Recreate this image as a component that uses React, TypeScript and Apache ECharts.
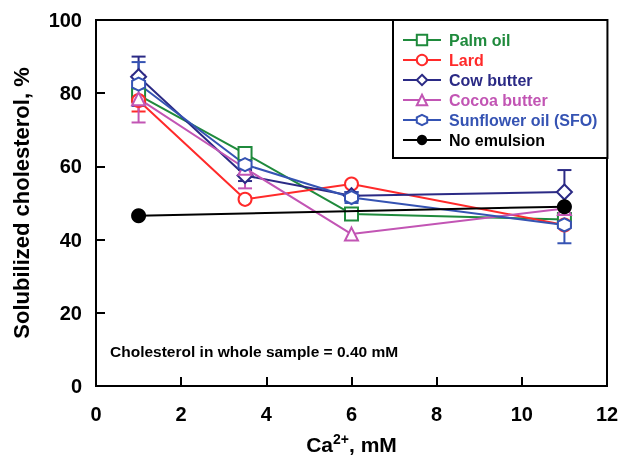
import React, { useEffect, useRef } from "react";
import * as echarts from "echarts";

const xValues = [1, 3.5, 6, 11];
const seriesNames = ["Palm oil", "Lard", "Cow butter", "Cocoa butter", "Sunflower oil (SFO)", "No emulsion"];
const palmOil = [79.5, 63.5, 47, 45.5];
const lard = [78, 51, 55.2, 44];
const cowButter = [84.5, 57.5, 52, 53];
const cocoaButter = [78.5, 59.5, 41.5, 48.5];
const sunflowerOil = [82.5, 60.5, 51.5, 44];
const noEmulsionX = [1, 11];
const noEmulsion = [46.5, 49];
const palmErr = [0, 1.5, 1, 0];
const lardErr = [3, 0, 0, 0];
const cowErr = [5.5, 1.5, 1, 6];
const cocoaErr = [6.5, 5.5, 0, 0];
const sfoErr = [6, 0, 1.5, 5];

const colors = ["#1f8a3c", "#ff2a2a", "#2b2a85", "#c255b4", "#3553b3", "#000000"];
const hexagon = "path://M0,-1 L0.866,-0.5 L0.866,0.5 L0,1 L-0.866,0.5 L-0.866,-0.5 Z";
const FONT = "Liberation Sans, Arial";

export default function App() {
  const ref = useRef<HTMLDivElement>(null);
  useEffect(() => {
    const chart = echarts.init(ref.current!, null, { renderer: "svg" });
    const values = [palmOil, lard, cowButter, cocoaButter, sunflowerOil];
    const errs = [palmErr, lardErr, cowErr, cocoaErr, sfoErr];
    const syms = ["rect", "circle", "diamond", "triangle", hexagon];
    const lineSeries: any[] = values.map((vals, i) => ({
      name: seriesNames[i],
      type: "line",
      data: xValues.map((x, j) => [x, vals[j]]),
      symbol: syms[i],
      symbolSize: i === 2 ? 15 : 13,
      lineStyle: { color: colors[i], width: 2 },
      itemStyle: { color: "#fff", borderColor: colors[i], borderWidth: 2 },
      z: 3,
    }));
    const errSeries: any[] = values.map((vals, i) => ({
      name: seriesNames[i] + " err",
      type: "custom",
      data: xValues
        .map((x, j) => [x, vals[j] - errs[i][j], vals[j] + errs[i][j]])
        .filter((d, j) => errs[i][j] > 0),
      encode: { x: 0, y: [1, 2] },
      renderItem: (params: any, api: any) => {
        const x = api.value(0);
        const lo = api.coord([x, api.value(1)]);
        const hi = api.coord([x, api.value(2)]);
        const w = 7;
        const st = { stroke: colors[i], lineWidth: 2 };
        return {
          type: "group",
          children: [
            { type: "line", shape: { x1: lo[0], y1: lo[1], x2: hi[0], y2: hi[1] }, style: st },
            { type: "line", shape: { x1: lo[0] - w, y1: lo[1], x2: lo[0] + w, y2: lo[1] }, style: st },
            { type: "line", shape: { x1: hi[0] - w, y1: hi[1], x2: hi[0] + w, y2: hi[1] }, style: st },
          ],
        };
      },
      z: 2,
      silent: true,
    }));
    const noEm = {
      name: seriesNames[5],
      type: "line",
      data: noEmulsionX.map((x, j) => [x, noEmulsion[j]]),
      symbol: "circle",
      symbolSize: 15,
      lineStyle: { color: "#000", width: 2 },
      itemStyle: { color: "#000" },
      z: 4,
    };
    chart.setOption({
      animation: false,
      grid: { left: 96, top: 20, right: 16, bottom: 78 },
      xAxis: {
        type: "value",
        min: 0,
        max: 12,
        interval: 2,
        axisLine: { show: true, lineStyle: { color: "#000", width: 2 } },
        axisTick: { show: true, inside: true, length: 9, lineStyle: { color: "#000", width: 2 } },
        axisLabel: { color: "#000", fontSize: 20, fontWeight: "bold", fontFamily: FONT, margin: 18 },
        splitLine: { show: false },
        name: "{a|Ca}{s|2+}{a|, mM}",
        nameLocation: "middle",
        nameGap: 46,
        nameTextStyle: {
          rich: {
            a: { fontSize: 21, fontWeight: "bold", color: "#000", fontFamily: FONT, verticalAlign: "bottom" },
            s: { fontSize: 14, fontWeight: "bold", color: "#000", fontFamily: FONT, verticalAlign: "top", padding: [0, 0, 9, 0] },
          },
        },
      },
      yAxis: {
        type: "value",
        min: 0,
        max: 100,
        interval: 20,
        axisLine: { show: true, lineStyle: { color: "#000", width: 2 } },
        axisTick: { show: true, inside: true, length: 9, lineStyle: { color: "#000", width: 2 } },
        axisLabel: { color: "#000", fontSize: 20, fontWeight: "bold", fontFamily: FONT, margin: 14 },
        splitLine: { show: false },
        name: "Solubilized cholesterol, %",
        nameLocation: "middle",
        nameGap: 64,
        nameTextStyle: { fontSize: 22, fontWeight: "bold", color: "#000", fontFamily: FONT },
      },
      legend: {
        orient: "vertical",
        left: 393,
        top: 20,
        itemWidth: 38,
        itemHeight: 13,
        itemGap: 4,
        padding: [12, 10, 10, 9],
        borderColor: "#000",
        borderWidth: 2,
        backgroundColor: "#fff",
        data: seriesNames.map((n, i) => ({
          name: n,
          textStyle: { color: colors[i], fontSize: 16, lineHeight: 16, fontWeight: "bold", fontFamily: FONT, padding: [0, 0, 0, 3] },
        })),
      },
      graphic: [
        {
          type: "rect",
          shape: { x: 96, y: 20, width: 511, height: 366 },
          style: { fill: "none", stroke: "#000", lineWidth: 2 },
          silent: true,
          z: 0,
        },
        {
          type: "text",
          left: 110,
          top: 343,
          style: { text: "Cholesterol in whole sample = 0.40 mM", fill: "#000", font: "bold 15.5px 'Liberation Sans', Arial" },
        },
      ],
      series: [...errSeries, ...lineSeries, noEm],
    });
    return () => chart.dispose();
  }, []);
  return <div ref={ref} style={{ position: "fixed", left: 0, top: 0, width: 623, height: 464 }} />;
}
